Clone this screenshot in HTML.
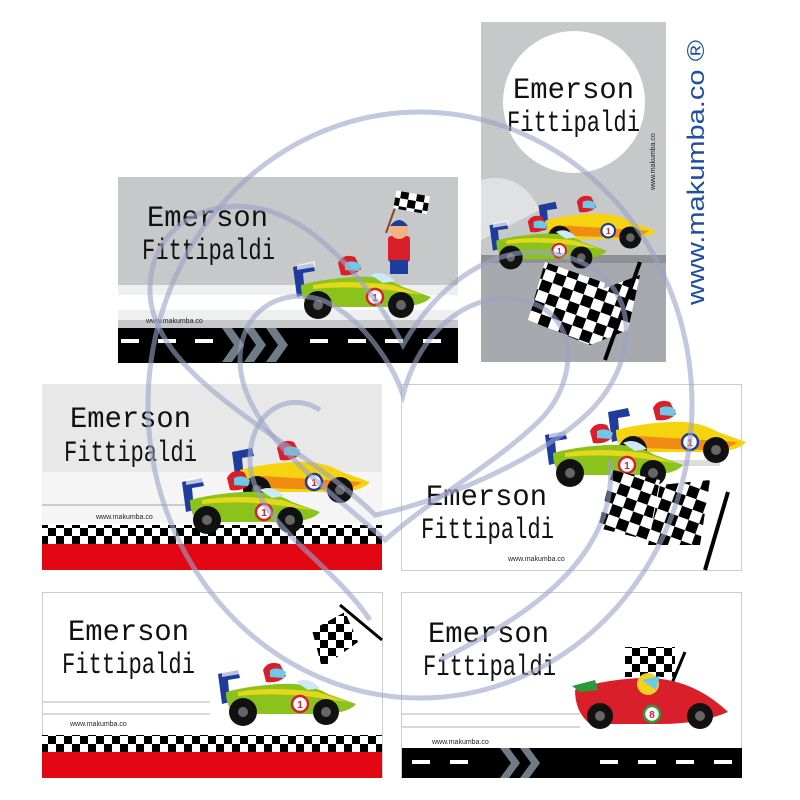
<!DOCTYPE html>
<html><head><meta charset="utf-8"><style>
html,body{margin:0;padding:0;background:#fff}
svg{display:block}
.nm{font-family:"Liberation Mono","DejaVu Sans Mono",monospace;font-size:30px;fill:#111}
.sm{font-family:"Liberation Sans",sans-serif;font-size:7px;fill:#222}
</style></head><body>
<svg width="800" height="800" viewBox="0 0 800 800" xmlns="http://www.w3.org/2000/svg">
<defs>
<g id="car">
 <path d="M10 12 L30 8 L32 16 L20 18 L22 40 L14 42 Z" fill="#1d3c9c"/>
 <path d="M14 10 L32 6 L32 12 L14 15Z" fill="#fff" opacity=".7"/>
 <path d="M18 30 Q40 24 70 22 Q100 20 120 32 L148 42 Q140 52 110 52 L30 52 Q18 48 18 30Z" fill="#8cc21c"/>
 <path d="M30 30 Q60 24 110 30 L140 40 L112 36 Q70 30 30 34Z" fill="#e3d81a"/>
 <path d="M55 8 Q60 -2 72 2 L78 14 Q70 22 58 20Z" fill="#d9202a"/>
 <path d="M62 8 Q70 4 78 10 L76 16 L62 15Z" fill="#6ec9e8"/>
 <path d="M88 20 Q100 14 112 26 L100 28Z" fill="#cde9f6"/>
 <circle cx="92" cy="42" r="8" fill="#fff" stroke="#d9202a" stroke-width="2.5"/>
 <text x="92" y="46" font-family="Liberation Sans" font-size="10" font-weight="bold" text-anchor="middle" fill="#d9202a">1</text>
 <circle cx="35" cy="50" r="14" fill="#111"/><circle cx="35" cy="50" r="5" fill="#666"/>
 <circle cx="118" cy="50" r="13" fill="#111"/><circle cx="118" cy="50" r="5" fill="#666"/>
</g>
<g id="ycar">
 <path d="M10 12 L30 8 L32 16 L20 18 L22 40 L14 42 Z" fill="#1d3c9c"/>
 <path d="M18 30 Q40 24 70 22 Q100 20 120 32 L148 42 Q140 52 110 52 L30 52 Q18 48 18 30Z" fill="#f5d40f"/>
 <path d="M40 36 L140 42 Q130 50 110 50 L40 48Z" fill="#f08c14"/>
 <path d="M55 8 Q60 -2 72 2 L78 14 Q70 22 58 20Z" fill="#d9202a"/>
 <path d="M62 8 Q70 4 78 10 L76 16 L62 15Z" fill="#6ec9e8"/>
 <circle cx="92" cy="42" r="8" fill="#fff" stroke="#1d3c9c" stroke-width="2.5"/>
 <text x="92" y="46" font-family="Liberation Sans" font-size="10" font-weight="bold" text-anchor="middle" fill="#d9202a">1</text>
 <circle cx="35" cy="50" r="14" fill="#111"/><circle cx="35" cy="50" r="5" fill="#666"/>
 <circle cx="118" cy="50" r="13" fill="#111"/><circle cx="118" cy="50" r="5" fill="#666"/>
</g>
<pattern id="chk" width="16" height="16" patternUnits="userSpaceOnUse">
 <rect width="16" height="16" fill="#fff"/><rect width="8" height="8" fill="#000"/><rect x="8" y="8" width="8" height="8" fill="#000"/>
</pattern>
<pattern id="chk2" width="22" height="22" patternUnits="userSpaceOnUse" patternTransform="rotate(20)">
 <rect width="22" height="22" fill="#fff"/><rect width="11" height="11" fill="#000"/><rect x="11" y="11" width="11" height="11" fill="#000"/>
</pattern>
</defs>

<!-- Card A -->
<rect x="118" y="177" width="340" height="186" fill="#c6c8ca"/>
<rect x="118" y="285" width="340" height="35" fill="#eeeff0"/>
<rect x="118" y="295" width="340" height="15" fill="#fff"/>
<rect x="118" y="328" width="340" height="35" fill="#000"/>
<g fill="#fff"><rect x="121" y="339" width="18" height="4"/><rect x="158" y="339" width="18" height="4"/><rect x="195" y="339" width="18" height="4"/><rect x="310" y="339" width="18" height="4"/><rect x="348" y="339" width="18" height="4"/><rect x="385" y="339" width="18" height="4"/><rect x="423" y="339" width="18" height="4"/></g>
<g fill="#6f7c87"><path d="M222 328h10l12 17-12 17h-10l12-17z"/><path d="M244 328h10l12 17-12 17h-10l12-17z"/><path d="M266 328h10l12 17-12 17h-10l12-17z"/></g>
<text class="nm" x="147" y="226" textLength="121" lengthAdjust="spacingAndGlyphs">Emerson</text>
<text class="nm" x="142" y="259" textLength="133" lengthAdjust="spacingAndGlyphs">Fittipaldi</text>
<text class="sm" x="146" y="323">www.makumba.co</text>
<line x1="386" y1="233" x2="396" y2="205" stroke="#8a4a1a" stroke-width="2"/>
<rect x="395" y="193" width="34" height="18" fill="url(#chk)" transform="rotate(10 410 200)"/>
<rect x="388" y="236" width="22" height="26" fill="#d9202a" rx="3"/>
<circle cx="399" cy="230" r="9" fill="#f3b184"/><path d="M390 226q9-12 18 0z" fill="#1d3c9c"/>
<rect x="390" y="260" width="18" height="14" fill="#1d3c9c"/>
<use href="#car" x="283" y="255"/>

<!-- Card B -->
<rect x="481" y="22" width="185" height="340" fill="#c6c8ca"/>
<rect x="481" y="255" width="185" height="107" fill="#a6a9ad"/>
<rect x="481" y="255" width="185" height="8" fill="#8d9095"/>
<path d="M481 180 Q520 170 540 210 L481 240Z" fill="#dfe1e3"/>
<circle cx="574" cy="102" r="71" fill="#fff"/>
<text class="nm" x="513" y="98" textLength="121" lengthAdjust="spacingAndGlyphs">Emerson</text>
<text class="nm" x="507" y="131" textLength="133" lengthAdjust="spacingAndGlyphs">Fittipaldi</text>
<text class="sm" transform="translate(655 190) rotate(-90)">www.makumba.co</text>
<use href="#ycar" transform="translate(530 195) scale(0.85)"/>
<use href="#car" transform="translate(481 215) scale(0.85)"/>
<path d="M545 262 L605 283 L590 345 L528 320Z" fill="url(#chk2)"/>
<path d="M600 290 L640 275 L628 330 L590 345Z" fill="url(#chk2)"/>
<line x1="640" y1="262" x2="605" y2="360" stroke="#000" stroke-width="4"/>

<!-- vertical logo -->
<text transform="translate(704 305) rotate(-90)" font-family="Liberation Sans" font-size="24" fill="#1f4fa0" textLength="265" lengthAdjust="spacingAndGlyphs">www.makumba.co ®</text>

<!-- Card C -->
<rect x="42" y="384" width="340" height="186" fill="#fff"/>
<rect x="42" y="384" width="340" height="88" fill="#e8e8e8"/>
<rect x="42" y="472" width="340" height="52" fill="#f5f5f5"/>
<line x1="42" y1="505" x2="200" y2="505" stroke="#bbb" stroke-width="1.5"/>
<rect x="42" y="525" width="340" height="19" fill="url(#chk)"/>
<rect x="42" y="544" width="340" height="26" fill="#e30613"/>
<text class="nm" x="70" y="427" textLength="121" lengthAdjust="spacingAndGlyphs">Emerson</text>
<text class="nm" x="64" y="461" textLength="133" lengthAdjust="spacingAndGlyphs">Fittipaldi</text>
<text class="sm" x="96" y="519">www.makumba.co</text>
<use href="#ycar" x="222" y="440"/>
<use href="#car" x="172" y="470"/>

<!-- Card D -->
<rect x="401.5" y="384.5" width="340" height="186" fill="#fff" stroke="#ccc"/>
<rect x="600" y="460" width="120" height="6" fill="#ddd"/>
<use href="#ycar" x="598" y="400"/>
<use href="#car" x="535" y="423"/>
<path d="M612 470 L660 480 L648 540 L598 528Z" fill="url(#chk2)"/>
<path d="M660 485 L710 480 L700 545 L648 545Z" fill="url(#chk2)"/>
<line x1="728" y1="492" x2="705" y2="570" stroke="#000" stroke-width="4"/>
<text class="nm" x="426" y="505" textLength="121" lengthAdjust="spacingAndGlyphs">Emerson</text>
<text class="nm" x="421" y="538" textLength="133" lengthAdjust="spacingAndGlyphs">Fittipaldi</text>
<text class="sm" x="508" y="561">www.makumba.co</text>

<!-- Card E -->
<rect x="42.5" y="592.5" width="340" height="185" fill="#fff" stroke="#ccc"/>
<line x1="42" y1="702" x2="210" y2="702" stroke="#ccc" stroke-width="1.5"/>
<line x1="42" y1="714" x2="210" y2="714" stroke="#ccc" stroke-width="1.5"/>
<rect x="42" y="735" width="340" height="17" fill="url(#chk)"/>
<rect x="42" y="752" width="340" height="26" fill="#e30613"/>
<text class="nm" x="68" y="640" textLength="121" lengthAdjust="spacingAndGlyphs">Emerson</text>
<text class="nm" x="62" y="673" textLength="133" lengthAdjust="spacingAndGlyphs">Fittipaldi</text>
<text class="sm" x="70" y="726">www.makumba.co</text>
<path d="M312 630 L345 612 L358 642 L322 668Z" fill="url(#chk)"/>
<line x1="340" y1="605" x2="382" y2="640" stroke="#000" stroke-width="3"/>
<use href="#car" x="208" y="662"/>

<!-- Card F -->
<rect x="401.5" y="592.5" width="340" height="185" fill="#fff" stroke="#ccc"/>
<line x1="402" y1="714" x2="580" y2="714" stroke="#ccc" stroke-width="1.5"/>
<line x1="402" y1="727" x2="580" y2="727" stroke="#ccc" stroke-width="1.5"/>
<rect x="402" y="748" width="340" height="30" fill="#000"/>
<g fill="#fff"><rect x="412" y="760" width="18" height="4"/><rect x="450" y="760" width="18" height="4"/><rect x="600" y="760" width="18" height="4"/><rect x="638" y="760" width="18" height="4"/><rect x="676" y="760" width="18" height="4"/><rect x="714" y="760" width="18" height="4"/></g>
<g fill="#6f7c87"><path d="M500 748h9l11 15-11 15h-9l11-15z"/><path d="M520 748h9l11 15-11 15h-9l11-15z"/></g>
<text class="nm" x="428" y="642" textLength="121" lengthAdjust="spacingAndGlyphs">Emerson</text>
<text class="nm" x="423" y="675" textLength="133" lengthAdjust="spacingAndGlyphs">Fittipaldi</text>
<text class="sm" x="432" y="744">www.makumba.co</text>
<rect x="625" y="647" width="50" height="30" fill="url(#chk)"/>
<line x1="685" y1="652" x2="665" y2="700" stroke="#000" stroke-width="3"/>
<path d="M575 690 Q600 680 640 678 Q690 676 728 712 Q700 724 660 724 L590 724 Q575 712 575 690Z" fill="#d9202a"/>
<path d="M572 686 L595 680 L598 690 L580 692Z" fill="#2a9a3a"/>
<circle cx="648" cy="684" r="11" fill="#f2d21c"/><path d="M642 680 L660 676 L656 690Z" fill="#6ec9e8"/>
<circle cx="652" cy="714" r="8" fill="#fff" stroke="#2a9a3a" stroke-width="2.5"/>
<text x="652" y="718" font-family="Liberation Sans" font-size="10" font-weight="bold" text-anchor="middle" fill="#d9202a">8</text>
<circle cx="600" cy="716" r="13" fill="#111"/><circle cx="600" cy="716" r="5" fill="#666"/>
<circle cx="700" cy="716" r="13" fill="#111"/><circle cx="700" cy="716" r="5" fill="#666"/>

<!-- watermark -->
<g fill="none" stroke="#9aa3c6" stroke-opacity="0.6" stroke-width="5">
<ellipse cx="420" cy="405" rx="272" ry="293"/>
<path d="M375 515 C300 440 150 380 150 290 C150 220 220 190 280 215 C330 235 380 300 403 345 C440 280 500 240 560 255 C640 275 640 350 600 400 C560 450 450 500 375 515Z"/>
<path d="M385 540 C330 490 240 430 240 360 C240 300 300 280 340 310 C370 330 395 370 403 395 C420 330 470 290 520 300 C580 310 580 380 540 420 C500 460 430 500 385 540Z"/>
<path d="M370 620 C330 560 250 520 250 460 C250 410 290 390 320 410 M440 660 C520 620 620 560 610 460"/>
</g>
</svg>
</body></html>
